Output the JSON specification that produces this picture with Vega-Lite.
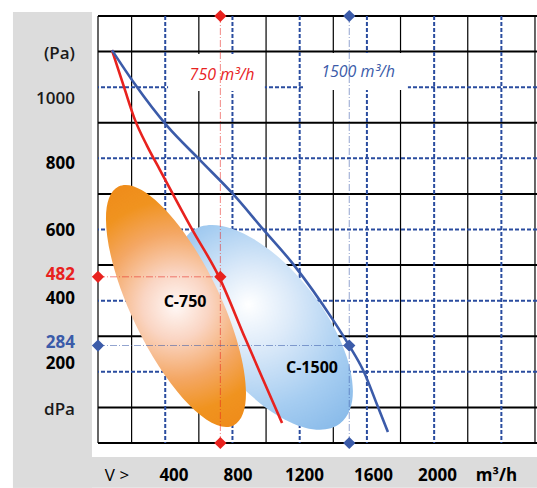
{
  "$schema": "https://vega.github.io/schema/vega-lite/v6.json",
  "width": 439,
  "height": 427,
  "autosize": {"type": "none"},
  "padding": {"left": 98, "top": 16, "right": 0, "bottom": 45},
  "background": "white",
  "config": {"view": {"stroke": null}, "axis": {"disable": true}},
  "datasets": {
    "panels": [
      {"part": "left panel", "q": -506, "q2": -36, "p": 1211, "p2": -126},
      {"part": "bottom panel", "q": -506, "q2": 2620, "p": -39, "p2": -126}
    ],
    "label_boxes": [
      {"series": "750", "q": 417, "q2": 993, "p": 1093, "p2": 989},
      {"series": "1500", "q": 1220, "q2": 1844, "p": 1096, "p2": 992}
    ],
    "grid_solid_x": [{"q": 0}, {"q": 200}, {"q": 600}, {"q": 1000}, {"q": 1400}, {"q": 1800}, {"q": 2200}, {"q": 2600}],
    "grid_solid_y": [{"p": 0}, {"p": 100}, {"p": 300}, {"p": 500}, {"p": 700}, {"p": 900}, {"p": 1100}, {"p": 1200}],
    "grid_dash_x": [{"q": 400}, {"q": 800}, {"q": 1200}, {"q": 1600}, {"q": 2000}, {"q": 2400}],
    "grid_dash_y": [{"p": 200}, {"p": 400}, {"p": 600}, {"p": 800}, {"p": 1000}],
    "fans": [{"model": "C-750", "q": 464, "p": 385}, {"model": "C-1500", "q": 999, "p": 325}],
    "curves": [
      {"series": "750", "q": 83, "p": 1104}, {"series": "750", "q": 155, "p": 1000}, {"series": "750", "q": 220, "p": 908},
      {"series": "750", "q": 292, "p": 835}, {"series": "750", "q": 369, "p": 767}, {"series": "750", "q": 559, "p": 601},
      {"series": "750", "q": 720, "p": 467}, {"series": "750", "q": 875, "p": 295}, {"series": "750", "q": 976, "p": 185},
      {"series": "750", "q": 1095, "p": 56},
      {"series": "1500", "q": 83, "p": 1104}, {"series": "1500", "q": 220, "p": 1008}, {"series": "1500", "q": 411, "p": 891},
      {"series": "1500", "q": 607, "p": 795}, {"series": "1500", "q": 803, "p": 700}, {"series": "1500", "q": 982, "p": 601},
      {"series": "1500", "q": 1166, "p": 500}, {"series": "1500", "q": 1398, "p": 346}, {"series": "1500", "q": 1493, "p": 275},
      {"series": "1500", "q": 1577, "p": 205}, {"series": "1500", "q": 1666, "p": 101}, {"series": "1500", "q": 1725, "p": 31}
    ],
    "operating": [{"series": "750", "q0": 0, "q": 728, "p": 467}, {"series": "1500", "q0": 0, "q": 1495, "p": 274}],
    "diamonds": [
      {"series": "750", "q": 728, "p": 1200}, {"series": "750", "q": 0, "p": 467}, {"series": "750", "q": 728, "p": 467}, {"series": "750", "q": 728, "p": 0},
      {"series": "1500", "q": 1495, "p": 1200}, {"series": "1500", "q": 0, "p": 274}, {"series": "1500", "q": 1495, "p": 274}, {"series": "1500", "q": 1495, "p": 0}
    ],
    "curve_labels": [{"series": "750", "text": "750 m³/h", "q": 738, "p": 1034}, {"series": "1500", "text": "1500 m³/h", "q": 1547, "p": 1043}],
    "op_labels": [{"series": "750", "text": "482", "q": -137, "p": 472}, {"series": "1500", "text": "284", "q": -137, "p": 281}],
    "y_ticks": [{"text": "800", "q": -137, "p": 784}, {"text": "600", "q": -137, "p": 596}, {"text": "400", "q": -137, "p": 405}, {"text": "200", "q": -137, "p": 222}],
    "y_units": [{"text": "(Pa)", "q": -137, "p": 1093}, {"text": "1000", "q": -137, "p": 967}, {"text": "dPa", "q": -137, "p": 93}],
    "x_ticks": [{"text": "400", "q": 452, "p": -94}, {"text": "800", "q": 833, "p": -94}, {"text": "1200", "q": 1229, "p": -94}, {"text": "1600", "q": 1639, "p": -94}, {"text": "2000", "q": 2020, "p": -94}, {"text": "m³/h", "q": 2371, "p": -94}],
    "x_unit": [{"text": "V >", "q": 113, "p": -94}],
    "fan_labels": [{"text": "C-750", "q": 518, "p": 396}, {"text": "C-1500", "q": 1273, "p": 211}]
  },
  "layer": [
    {
      "data": {"name": "panels"},
      "mark": {"type": "rect", "color": "#DCDCDC"},
      "encoding": {
        "x": {"field": "q", "type": "quantitative", "scale": {"domain": [0, 2612], "nice": false, "zero": false}},
        "x2": {"field": "q2"},
        "y": {"field": "p", "type": "quantitative", "scale": {"domain": [0, 1200], "nice": false, "zero": false}},
        "y2": {"field": "p2"}
      }
    },
    {
      "data": {"name": "grid_solid_x"},
      "mark": {"type": "rule", "color": "#000000", "strokeWidth": 1.2},
      "encoding": {"x": {"field": "q", "type": "quantitative"}}
    },
    {
      "data": {"name": "grid_solid_y"},
      "mark": {"type": "rule", "color": "#000000", "strokeWidth": 2},
      "encoding": {"y": {"field": "p", "type": "quantitative"}}
    },
    {
      "data": {"name": "grid_dash_x"},
      "mark": {"type": "rule", "color": "#2A4C9F", "strokeWidth": 2, "strokeDash": [4, 2]},
      "encoding": {"x": {"field": "q", "type": "quantitative"}}
    },
    {
      "data": {"name": "grid_dash_y"},
      "mark": {"type": "rule", "color": "#2A4C9F", "strokeWidth": 2, "strokeDash": [4, 2]},
      "encoding": {"y": {"field": "p", "type": "quantitative"}}
    },
    {
      "data": {"name": "label_boxes"},
      "mark": {"type": "rect", "color": "white"},
      "encoding": {
        "x": {"field": "q", "type": "quantitative"},
        "x2": {"field": "q2"},
        "y": {"field": "p", "type": "quantitative"},
        "y2": {"field": "p2"}
      }
    },
    {
      "data": {"name": "fans"},
      "transform": [{"filter": "datum.model === 'C-1500'"}],
      "mark": {
        "type": "point", "filled": true, "opacity": 1, "strokeWidth": 0,
        "shape": "M 1 0 C 1 0.2612 0.5523 0.473 0 0.473 C -0.5523 0.473 -1 0.2612 -1 0 C -1 -0.2612 -0.5523 -0.473 0 -0.473 C 0.5523 -0.473 1 -0.2612 1 0 Z",
        "size": 59049, "angle": 52.4,
        "fill": {"gradient": "radial", "x1": 0.38, "y1": 0.5, "r1": 0, "x2": 0.45, "y2": 0.5, "r2": 0.56,
          "stops": [{"offset": 0, "color": "#FFFFFF"}, {"offset": 0.3, "color": "#DCEAF9"}, {"offset": 0.7, "color": "#A6CDF1"}, {"offset": 1, "color": "#88BAE9"}]}
      },
      "encoding": {
        "x": {"field": "q", "type": "quantitative"},
        "y": {"field": "p", "type": "quantitative"}
      }
    },
    {
      "data": {"name": "fans"},
      "transform": [{"filter": "datum.model === 'C-750'"}],
      "mark": {
        "type": "point", "filled": true, "opacity": 1, "strokeWidth": 0,
        "shape": "M 1 0 C 1 0.185 0.5523 0.335 0 0.335 C -0.5523 0.335 -1 0.185 -1 0 C -1 -0.185 -0.5523 -0.335 0 -0.335 C 0.5523 -0.335 1 -0.185 1 0 Z",
        "size": 70225, "angle": 64.3,
        "fill": {"gradient": "radial", "x1": 0.5, "y1": 0.5, "r1": 0, "x2": 0.5, "y2": 0.5, "r2": 0.5,
          "stops": [{"offset": 0, "color": "#FFF8F6"}, {"offset": 0.25, "color": "#FAD5C3"}, {"offset": 0.55, "color": "#F4A764"}, {"offset": 0.8, "color": "#F0931F"}, {"offset": 1, "color": "#EF8C1A"}]}
      },
      "encoding": {
        "x": {"field": "q", "type": "quantitative"},
        "y": {"field": "p", "type": "quantitative"}
      }
    },
    {
      "data": {"name": "operating"},
      "mark": {"type": "rule", "strokeWidth": 1, "opacity": 0.55, "strokeDash": [7, 2, 1, 2]},
      "encoding": {
        "x": {"field": "q", "type": "quantitative"},
        "color": {"field": "series", "type": "nominal", "scale": {"domain": ["750", "1500"], "range": ["#E8221E", "#3B5BA9"]}, "legend": null}
      }
    },
    {
      "data": {"name": "operating"},
      "mark": {"type": "rule", "strokeWidth": 1, "opacity": 0.55, "strokeDash": [7, 2, 1, 2]},
      "encoding": {
        "x": {"field": "q0", "type": "quantitative"},
        "x2": {"field": "q"},
        "y": {"field": "p", "type": "quantitative"},
        "color": {"field": "series", "type": "nominal", "legend": null}
      }
    },
    {
      "data": {"name": "curves"},
      "mark": {"type": "line", "strokeWidth": 2.6, "interpolate": "monotone"},
      "encoding": {
        "x": {"field": "q", "type": "quantitative"},
        "y": {"field": "p", "type": "quantitative"},
        "color": {"field": "series", "type": "nominal", "legend": null}
      }
    },
    {
      "data": {"name": "diamonds"},
      "mark": {"type": "point", "shape": "diamond", "filled": true, "opacity": 1, "size": 150},
      "encoding": {
        "x": {"field": "q", "type": "quantitative"},
        "y": {"field": "p", "type": "quantitative"},
        "color": {"field": "series", "type": "nominal", "legend": null}
      }
    },
    {
      "data": {"name": "curve_labels"},
      "mark": {"type": "text", "font": "Open Sans", "fontSize": 16, "fontStyle": "italic", "align": "center", "baseline": "middle"},
      "encoding": {
        "x": {"field": "q", "type": "quantitative"},
        "y": {"field": "p", "type": "quantitative"},
        "text": {"field": "text", "type": "nominal"},
        "color": {"field": "series", "type": "nominal", "legend": null}
      }
    },
    {
      "data": {"name": "op_labels"},
      "mark": {"type": "text", "font": "Open Sans", "fontSize": 17, "fontWeight": "bold", "align": "right", "baseline": "middle"},
      "encoding": {
        "x": {"field": "q", "type": "quantitative"},
        "y": {"field": "p", "type": "quantitative"},
        "text": {"field": "text", "type": "nominal"},
        "color": {"field": "series", "type": "nominal", "legend": null}
      }
    },
    {
      "data": {"name": "y_ticks"},
      "mark": {"type": "text", "font": "Open Sans", "fontSize": 17, "fontWeight": "bold", "align": "right", "baseline": "middle", "color": "#000000"},
      "encoding": {
        "x": {"field": "q", "type": "quantitative"},
        "y": {"field": "p", "type": "quantitative"},
        "text": {"field": "text", "type": "nominal"}
      }
    },
    {
      "data": {"name": "y_units"},
      "mark": {"type": "text", "font": "Open Sans", "fontSize": 17, "fontWeight": 600, "align": "right", "baseline": "middle", "color": "#1A1A1A"},
      "encoding": {
        "x": {"field": "q", "type": "quantitative"},
        "y": {"field": "p", "type": "quantitative"},
        "text": {"field": "text", "type": "nominal"}
      }
    },
    {
      "data": {"name": "x_ticks"},
      "mark": {"type": "text", "font": "Open Sans", "fontSize": 17, "fontWeight": "bold", "align": "center", "baseline": "middle", "color": "#000000"},
      "encoding": {
        "x": {"field": "q", "type": "quantitative"},
        "y": {"field": "p", "type": "quantitative"},
        "text": {"field": "text", "type": "nominal"}
      }
    },
    {
      "data": {"name": "x_unit"},
      "mark": {"type": "text", "font": "Open Sans", "fontSize": 17, "fontWeight": "normal", "align": "center", "baseline": "middle", "color": "#000000"},
      "encoding": {
        "x": {"field": "q", "type": "quantitative"},
        "y": {"field": "p", "type": "quantitative"},
        "text": {"field": "text", "type": "nominal"}
      }
    },
    {
      "data": {"name": "fan_labels"},
      "mark": {"type": "text", "font": "Open Sans", "fontSize": 16, "fontWeight": "bold", "align": "center", "baseline": "middle", "color": "#000000"},
      "encoding": {
        "x": {"field": "q", "type": "quantitative"},
        "y": {"field": "p", "type": "quantitative"},
        "text": {"field": "text", "type": "nominal"}
      }
    }
  ]
}
